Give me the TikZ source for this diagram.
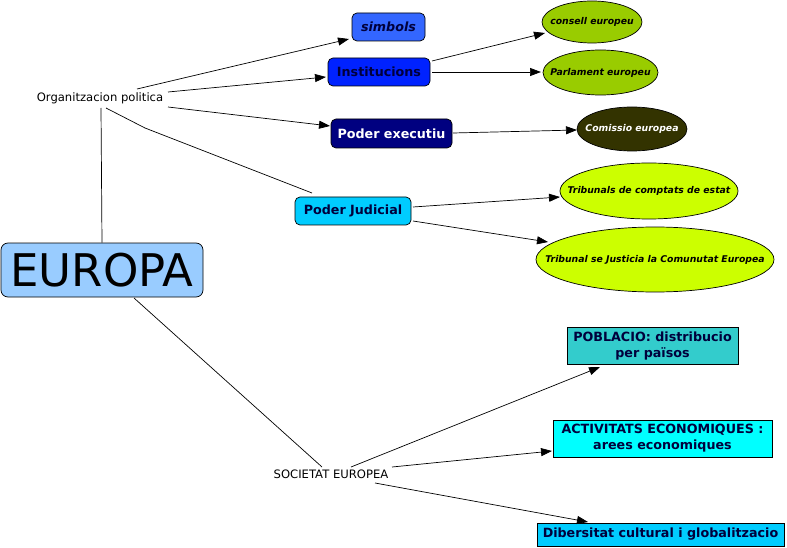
\documentclass[tikz,border=0pt]{standalone}
\usepackage{fontspec}
\setmainfont{DejaVu Sans}
\usetikzlibrary{calc,shapes.geometric,arrows.meta}
\definecolor{cEuropa}{RGB}{153,204,255}
\definecolor{cSimbols}{RGB}{51,102,255}
\definecolor{cInst}{RGB}{0,34,255}
\definecolor{cExec}{RGB}{0,0,128}
\definecolor{cJud}{RGB}{0,204,255}
\definecolor{cOlive}{RGB}{153,204,0}
\definecolor{cDark}{RGB}{51,51,0}
\definecolor{cLime}{RGB}{204,255,0}
\definecolor{cTeal}{RGB}{51,204,204}
\definecolor{cCyan}{RGB}{0,255,255}
\definecolor{cNavyTxt}{RGB}{0,0,60}
\newcommand{\ztext}[1]{\makebox[0pt][c]{#1}}
\tikzset{
  plain/.style={inner sep=1pt, font=\fontsize{11.6}{14}\selectfont},
  rbox/.style={draw=black, line width=0.7pt, rounded corners=5pt, inner sep=0pt,
    font=\fontsize{12.7}{15}\selectfont\bfseries, text=cNavyTxt},
  ell/.style={draw=black, line width=0.7pt, ellipse, inner sep=0pt,
    font=\fontsize{9.3}{11}\selectfont\bfseries\itshape},
  sbox/.style={draw=black, line width=0.8pt, inner sep=0pt, align=center,
    font=\fontsize{12.7}{16}\selectfont\bfseries, text=cNavyTxt},
  conn/.style={line width=0.7pt},
  arr/.style={line width=0.7pt, -{Triangle[length=11pt,width=8pt]}}
}
\begin{document}
\begin{tikzpicture}[x=1pt,y=-1pt]
\useasboundingbox (0,0) rectangle (787,548);
% nodes
\node[plain] (org) at (100,98) {Organitzacion politica};
\node[rbox, fill=cEuropa, minimum width=202pt, minimum height=54pt, rounded corners=7pt,
  font=\fontsize{45}{48}\selectfont, text=black] (europa) at (102,270) {EUROPA};
\node[rbox, fill=cSimbols, minimum width=73pt, minimum height=28pt,
  font=\fontsize{12.7}{15}\selectfont\bfseries\itshape] (simbols) at (388.5,27) {simbols};
\node[rbox, fill=cInst, minimum width=102pt, minimum height=28pt] (inst) at (379,72) {Institucions};
\node[rbox, fill=cExec, minimum width=121pt, minimum height=29pt, text=white] (exec) at (391.5,133.5) {Poder executiu};
\node[rbox, fill=cJud, minimum width=116pt, minimum height=28pt] (jud) at (353,211) {Poder Judicial};
\node[ell, fill=cOlive, minimum width=100pt, minimum height=42pt] (consell) at (592,22) {\ztext{consell europeu}};
\node[ell, fill=cOlive, minimum width=115pt, minimum height=45pt] (parl) at (600.5,72.5) {\ztext{Parlament europeu}};
\node[ell, fill=cDark, minimum width=110pt, minimum height=44pt, text=white] (comissio) at (632,129) {\ztext{Comissio europea}};
\node[ell, fill=cLime, minimum width=178pt, minimum height=56pt] (trib1) at (649,191) {\ztext{Tribunals de comptats de estat}};
\node[ell, fill=cLime, minimum width=238pt, minimum height=65pt] (trib2) at (655,259.5) {\ztext{Tribunal se Justicia la Comunutat Europea}};
\node[sbox, fill=cTeal, minimum width=171pt, minimum height=37pt] (pob) at (652.5,345.5) {POBLACIO: distribucio\\per països};
\node[sbox, fill=cCyan, minimum width=219pt, minimum height=37pt] (act) at (662.5,438.5) {ACTIVITATS ECONOMIQUES :\\arees economiques};
\node[sbox, fill=cJud, minimum width=247pt, minimum height=23pt] (dib) at (660.5,534.5) {Dibersitat cultural i globalitzacio};
\node[plain] (soc) at (331,474) {SOCIETAT EUROPEA};
% connectors
\draw[conn] (europa.north) -- ($(org)+(1,10)$);
\draw[arr] ($(org)+(37,-9)$) -- ($(simbols)+(-39.5,12)$);
\draw[arr] ($(org)+(68,-6)$) -- ($(inst)+(-53,5)$);
\draw[arr] ($(org)+(68,9)$) -- ($(exec)+(-61.5,-7.5)$);
\draw[conn] ($(org)+(6,10)$) -- ($(org)+(45,30)$) -- ($(jud)+(-41,-18)$);
\draw[arr] ($(inst)+(53,-11)$) -- ($(consell)+(-47,11)$);
\draw[arr] ($(inst)+(53,0)$) -- ($(parl)+(-59.5,-0.5)$);
\draw[arr] ($(exec)+(61.5,-0.5)$) -- ($(comissio)+(-55,1)$);
\draw[arr] ($(jud)+(60,-4)$) -- ($(trib1)+(-89,6)$);
\draw[arr] ($(jud)+(60,10)$) -- ($(trib2)+(-107,-17.5)$);
\draw[conn] ($(europa)+(32,28)$) -- ($(soc)+(-9,-7)$);
\draw[arr] ($(soc)+(20,-7)$) -- ($(pob)+(-52.5,21.5)$);
\draw[arr] ($(soc)+(61,-7)$) -- ($(act)+(-110.5,12.5)$);
\draw[arr] ($(soc)+(44,9)$) -- ($(dib)+(-72.5,-12.5)$);
\end{tikzpicture}
\end{document}
